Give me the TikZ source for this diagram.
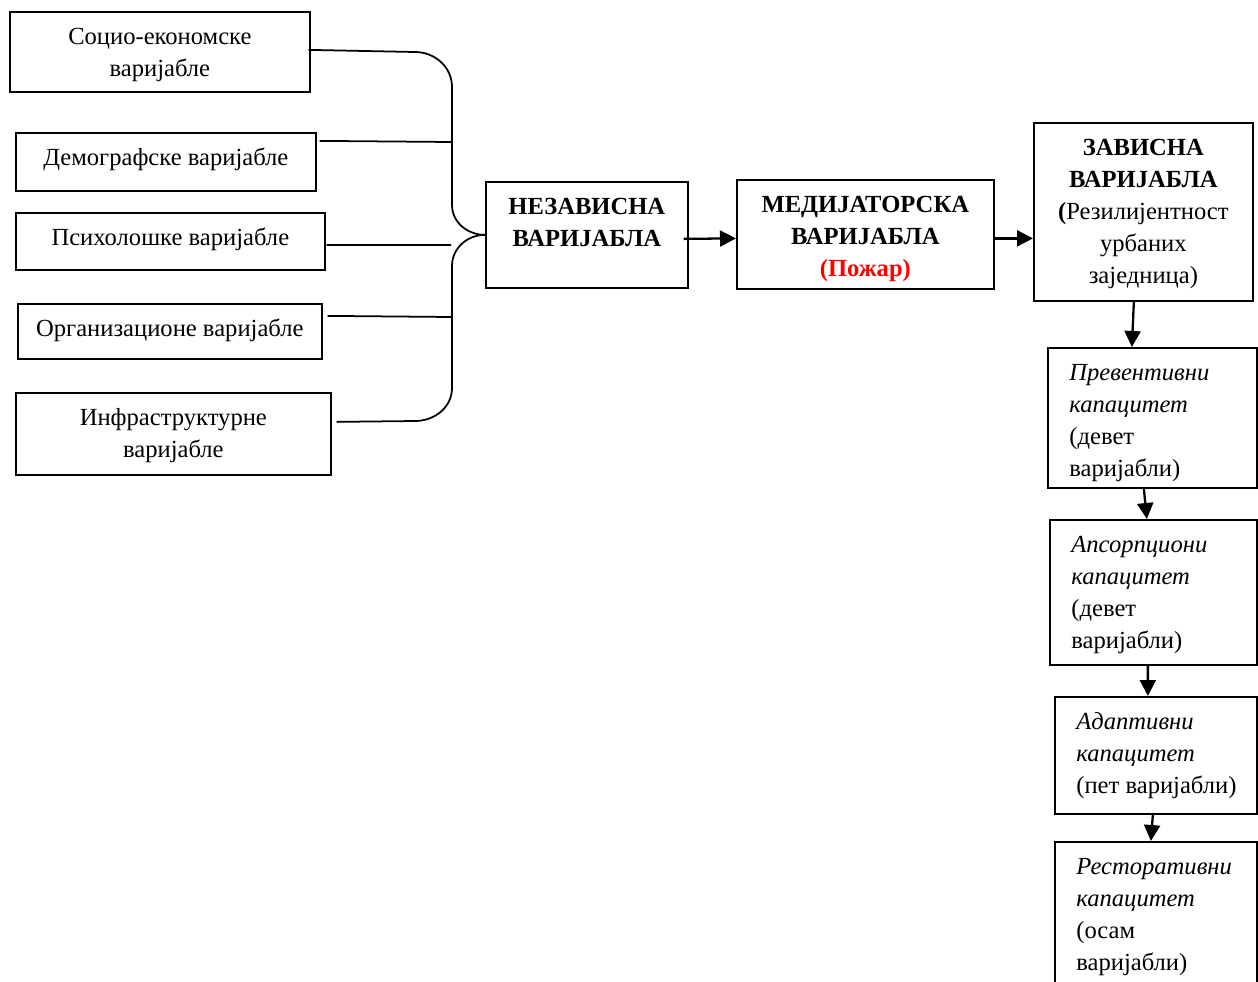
\documentclass[tikz,border=0pt]{standalone}
\usepackage{fontspec}
\setmainfont{Liberation Serif}
\usetikzlibrary{arrows.meta}
\definecolor{pozar}{RGB}{255,0,0}
\newcommand{\ctext}[3]{\parbox[c][#2][t]{#1}{\vspace*{2.1mm}\centering\strut#3}}
\newcommand{\ltext}[3]{\parbox[c][#2][t]{#1}{\vspace*{2.1mm}\raggedright\strut#3}}
\tikzset{
  varbox/.style={draw, line width=1pt, inner sep=0pt, anchor=north west},
  capbox/.style={varbox, inner xsep=0.43cm},
  arr/.style={-{Triangle[length=0.32cm,width=0.32cm]}, line width=1.3pt},
  brace/.style={line width=1pt}
}

\begin{document}
\begin{tikzpicture}[x=0.02cm,y=-0.02cm,font=\fontsize{14}{18.2}\selectfont]
\useasboundingbox (0,0) rectangle (1258,981);

% nezavisne varijable
\node[varbox] (socio) at (9,11) {\ctext{6cm}{1.6cm}{Социо-економске\\варијабле}};
\node[varbox] (demo) at (15,132) {\ctext{6cm}{1.16cm}{Демографске варијабле}};
\node[varbox] (psih) at (15,212) {\ctext{6.18cm}{1.14cm}{Психолошке варијабле}};
\node[varbox] (org) at (17,303) {\ctext{6.08cm}{1.1cm}{Организационе варијабле}};
\node[varbox] (infra) at (15,392) {\ctext{6.3cm}{1.64cm}{Инфраструктурне\\варијабле}};

\node[varbox] (nezav) at (485,181) {\ctext{4.04cm}{2.12cm}{\bfseries НЕЗАВИСНА\\ВАРИЈАБЛА}};
\node[varbox] (medij) at (736,179) {\ctext{5.14cm}{2.18cm}{\bfseries МЕДИЈАТОРСКА\\ВАРИЈАБЛА\\\textcolor{pozar}{(Пожар)}}};
\node[varbox] (zavis) at (1033,122) {\ctext{4.38cm}{3.56cm}{{\bfseries ЗАВИСНА\\ВАРИЈАБЛА\\(}Резилијентност\\урбаних\\заједница)}};

% kapaciteti
\node[capbox] (prev) at (1047,347) {\ltext{3.32cm}{2.8cm}{\itshape Превентивни\\капацитет\\\upshape (девет\\варијабли)}};
\node[capbox] (aps) at (1049,519) {\ltext{3.28cm}{2.9cm}{\itshape Апсорпциони\\капацитет\\\upshape (девет\\варијабли)}};
\node[capbox] (adapt) at (1054,696) {\ltext{3.18cm}{2.34cm}{\itshape Адаптивни\\капацитет\\\upshape \mbox{(пет варијабли)}}};
\node[capbox] (rest) at (1054,841) {\ltext{3.18cm}{3cm}{\itshape Ресторативни\\капацитет\\\upshape (осам\\варијабли)}};

% viticasta zagrada
\coordinate (jA) at (415,52);
\coordinate (j2) at (451,142);
\coordinate (j3) at (451,245);
\coordinate (j4) at (451,317);
\coordinate (jE) at (415,421);
\coordinate (bt) at (452,87);
\coordinate (bm1) at (452,205);
\coordinate (bm2) at (452,266);
\coordinate (bb) at (452,388);
\draw[brace] (jA) to[out=0,in=90] (bt) -- (bm1) to[out=-90,in=180] (nezav.west);
\draw[brace] (nezav.west) to[out=180,in=90] (bm2) -- (bb) to[out=-90,in=0] (jE);

\draw[brace] ([xshift=-0.04cm,yshift=0.04cm]socio.east) -- (jA);
\draw[brace] ([xshift=0.06cm,yshift=0.42cm]demo.east) -- (j2);
\draw[brace] ([xshift=0.02cm,yshift=-0.07cm]psih.east) -- (j3);
\draw[brace] ([xshift=0.1cm,yshift=0.31cm]org.east) -- (j4);
\draw[brace] ([xshift=0.1cm,yshift=0.24cm]infra.east) -- (jE);

\draw[arr] ([xshift=-0.1cm,yshift=-0.08cm]nezav.east) -- ([yshift=-0.08cm]medij.west);
\draw[arr] ([yshift=-0.08cm]medij.east) -- ([yshift=-0.08cm]medij.east -| zavis.west);
\draw[arr] ([xshift=-0.19cm]zavis.south) -- ([xshift=-0.41cm]prev.north);
\draw[arr] ([xshift=-0.17cm]prev.south) -- ([xshift=-0.13cm]aps.north);
\draw[arr] ([xshift=-0.11cm]aps.south) -- ([xshift=-0.16cm]adapt.north);
\draw[arr] ([xshift=-0.06cm]adapt.south) -- ([xshift=-0.1cm]rest.north);
\end{tikzpicture}
\end{document}
